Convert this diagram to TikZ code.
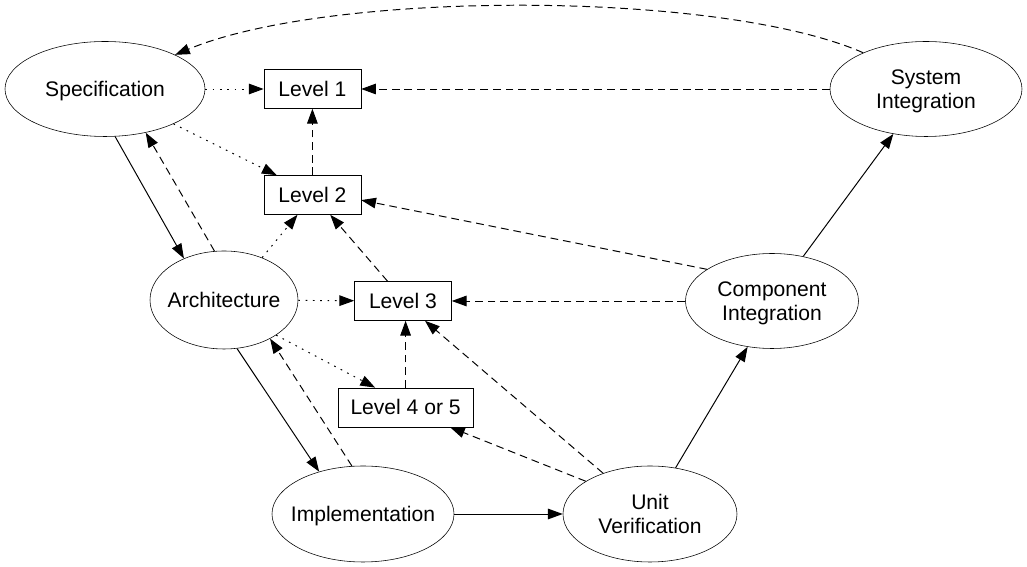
\documentclass[tikz,border=0pt]{standalone}
\usepackage{fontspec}
\setmainfont{Liberation Sans}
\usetikzlibrary{arrows.meta,shapes.geometric,positioning}
\newcommand{\lbl}[1]{\makebox[0pt]{\raisebox{-5.5pt}[0pt][0pt]{\begin{tabular}{@{}c@{}}#1\end{tabular}}}}

\begin{document}
\begin{tikzpicture}[
  ph/.style={ellipse,draw,thin,inner sep=0pt,font=\fontsize{15}{17}\selectfont},
  lv/.style={draw,thin,inner sep=0pt,minimum width=2.425cm,minimum height=0.975cm,
             font=\fontsize{15}{17}\selectfont},
  tip/.style={-{Triangle[length=10.5pt,width=7.5pt]},line width=0.7pt},
  sol/.style={tip},
  dsh/.style={tip,dash pattern=on 5.5pt off 3.5pt},
  dot/.style={tip,dash pattern=on 1.2pt off 4pt}]
  \useasboundingbox (0,0) rectangle (25.675,14.175);
  % phases
  \node[ph,minimum width=5cm,minimum height=2.375cm]     (spec) at (2.625,11.95) {\lbl{Specification}};
  \node[ph,minimum width=4.8cm,minimum height=2.375cm]   (si)   at (23.15,11.95) {\lbl{System\\Integration}};
  \node[ph,minimum width=3.7cm,minimum height=2.45cm]    (arch) at (5.6,6.675)   {\lbl{Architecture}};
  \node[ph,minimum width=4.325cm,minimum height=2.375cm] (ci)   at (19.3,6.65)   {\lbl{Component\\Integration}};
  \node[ph,minimum width=4.55cm,minimum height=2.4cm]    (impl) at (9.075,1.325) {\lbl{Implementation}};
  \node[ph,minimum width=4.35cm,minimum height=2.4cm]    (uv)   at (16.25,1.325) {\lbl{Unit\\Verification}};
  % levels
  \node[lv] (l1)  at (7.81,11.95) {Level 1};
  \node[lv] (l2)  at (7.81,9.3)   {Level 2};
  \node[lv] (l3)  at (10.075,6.65) {Level 3};
  \node[lv,minimum width=3.375cm] (l45) at (10.14,3.99) {Level 4 or 5};
  % development path
  \draw[sol] (spec.-78) -- (arch.134);
  \draw[sol] (arch.-75) -- (impl.136);
  \draw[sol] (impl) -- (uv);
  \draw[sol] (uv.61) -- (ci.-118);
  \draw[sol] (ci.55) -- (si.-126);
  % feedback
  \draw[dsh] (arch.101) -- (spec.-47);
  \draw[dsh] (impl.103) -- (arch.-40);
  \draw[dsh] (si.150) .. controls (18,14.425) and (8.25,14.425) .. (spec.26);
  \draw[dsh] (si) -- (l1);
  \draw[dsh] (l2) -- (l1);
  \draw[dsh] (ci.154) -- (l2.-6);
  \draw[dsh] (l3.128) -- (l2.-48);
  \draw[dsh] (ci) -- (l3);
  \draw[dsh] (l45.north) -- (l45.north |- l3.south);
  \draw[dsh] (uv.153) -- (l45.-24);
  \draw[dsh] (uv.139) -- (l3.-42);
  % levels of the phases
  \draw[dot] (spec) -- (l1);
  \draw[dot] (spec.-27) -- (l2.151);
  \draw[dot] (arch.48) -- (l2.-127);
  \draw[dot] (arch) -- (l3);
  \draw[dot] (arch.-34) -- (l45.147);
\end{tikzpicture}
\end{document}
